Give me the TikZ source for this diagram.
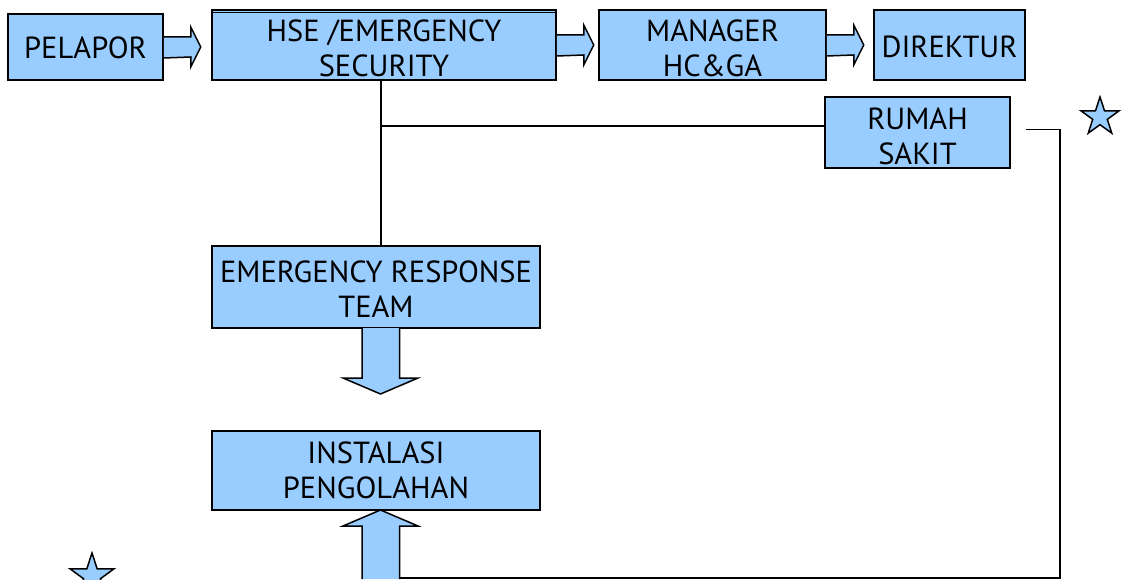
\documentclass[tikz,border=0pt]{standalone}
\usepackage{fontspec}
\setmainfont{PT Sans}
\usetikzlibrary{calc,shapes.geometric}
\definecolor{boxblue}{HTML}{99CCFF}
\begin{document}
\begin{tikzpicture}[x=1pt,y=-1pt,
  box/.style={draw=black,line width=1.5pt,fill=boxblue,rectangle,inner sep=0pt},
  boxtext/.style={inner sep=0pt,align=center,font=\fontsize{30.5}{35}\selectfont},
  barrow/.style={draw=black,line width=1.5pt,fill=boxblue,line join=miter},
  link/.style={draw=black,line width=1.5pt},
  starshape/.style={draw=black,line width=1.5pt,fill=boxblue,star,star points=5,
    star point ratio=2.6,inner sep=0pt}]
\useasboundingbox (0,0) rectangle (1122,580);
% boxes
\node[box,minimum width=155pt,minimum height=66pt] (pel) at (85.5,47) {};
\node[box,minimum width=344pt,minimum height=70pt] (hse) at (384,45) {};
\node[box,minimum width=227pt,minimum height=70pt] (man) at (712.5,45) {};
\node[box,minimum width=151pt,minimum height=70pt] (dir) at (949.5,45) {};
\node[box,minimum width=185pt,minimum height=71pt] (rs) at (917.5,132.5) {};
\node[box,minimum width=328pt,minimum height=82pt] (ert) at (376,287) {};
\node[box,minimum width=328pt,minimum height=79pt] (inst) at (376,470.5) {};
% box texts
\node[boxtext] (pelt) at ($(pel)+(0,1)$) {PELAPOR};
\node[boxtext] (hset) at ($(hse)+(0,3.5)$) {HSE /EMERGENCY\\SECURITY};
\node[boxtext] (mant) at ($(man)+(0,3)$) {MANAGER\\HC\&GA};
\node[boxtext] (dirt) at ($(dir)+(0,2)$) {DIREKTUR};
\node[boxtext] (rst) at ($(rs)+(0,4)$) {RUMAH\\SAKIT};
\node[boxtext] (ertt) at ($(ert)+(0,2)$) {EMERGENCY RESPONSE\\TEAM};
\node[boxtext] (instt) at (inst) {INSTALASI\\PENGOLAHAN};
% double top line of HSE box
\draw[line width=1pt] ($(hse.north west)+(0,3)$) -- ($(hse.north east)+(0,3)$);
% horizontal block arrows
\foreach \a/\b in {pel/hse,hse/man,man/dir}{
  \draw[barrow] ($(\a.east)+(0,-10)$) -- ++(27,0) -- ++(0,-10) -- ++(10,20)
    -- ++(-10,20) -- ++(0,-10) -- ($(\a.east)+(0,11)$);
}
% connectors
\coordinate (j) at ($(hse.south)+(-3,0)$);
\coordinate (jj) at (j |- 0,126);
\draw[link] (j) -- (j |- ert.north);
\draw[link] (jj) -- (jj -| rs.west);
\coordinate (r1) at ($(rs.east)+(15,-3)$);
\coordinate (r2) at (1060,129.5);
\coordinate (r3) at (1060,578);
\coordinate (r4) at (400,578);
\draw[link] (r1) -- (r2) -- (r3) -- (r4);
% down block arrow
\draw[barrow] (362,328) -- (362,378) -- (343,378) -- (380.5,394) -- (418,378) -- (399.5,378) -- (399.5,328);
% up block arrow
\draw[barrow] (362,579) -- (362,526) -- (343,526) -- (380.5,510) -- (418,526) -- (399.5,526) -- (399.5,579);
% stars
\node[starshape,minimum size=40pt] (s1) at (1100,117) {};
\node[starshape,minimum size=46pt] (s2) at (92,576) {};
\end{tikzpicture}
\end{document}
